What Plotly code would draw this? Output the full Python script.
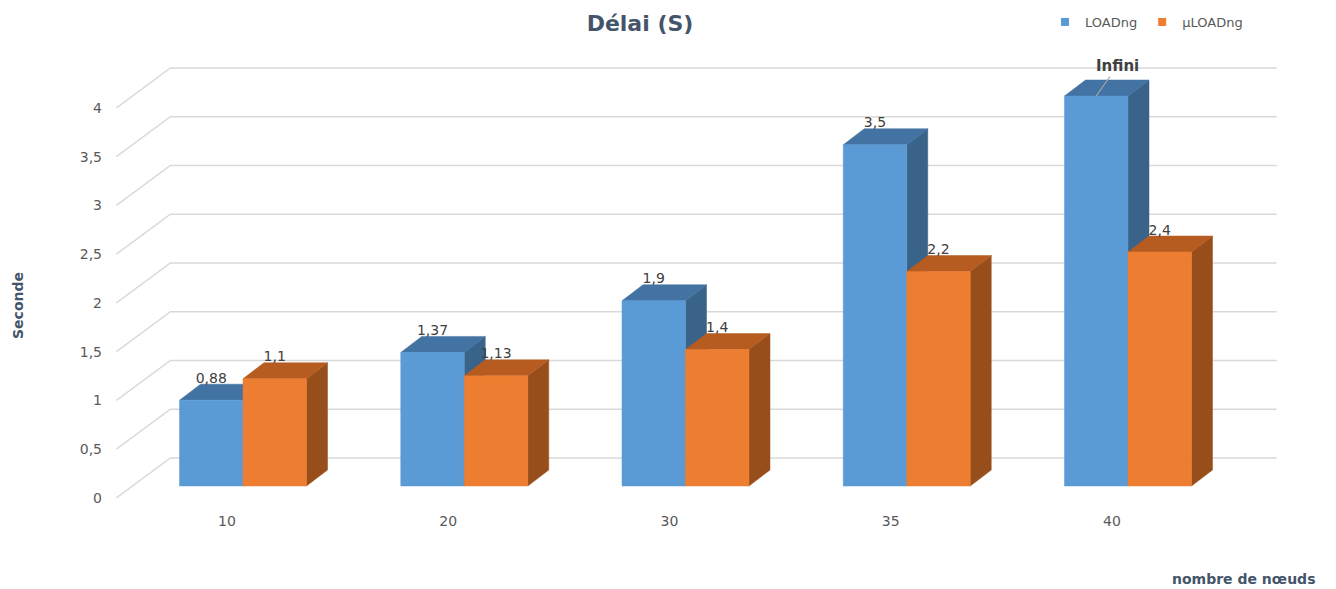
import plotly.graph_objects as go

# ---------------- data ----------------
categories = ["10", "20", "30", "35", "40"]
loadng = [0.88, 1.37, 1.9, 3.5, 4.0]
loadng_labels = ["0,88", "1,37", "1,9", "3,5", "Infini"]
uloadng = [1.1, 1.13, 1.4, 2.2, 2.4]
uloadng_labels = ["1,1", "1,13", "1,4", "2,2", "2,4"]
y_tickvals = [0, 0.5, 1, 1.5, 2, 2.5, 3, 3.5, 4]
y_ticktext = ["0", "0,5", "1", "1,5", "2", "2,5", "3", "3,5", "4"]
series_names = ["LOADng", "µLOADng"]

# ---------------- geometry (pixel-based layout) ----------------
W, H = 1336, 589
PLOT_L, PLOT_R, PLOT_T, PLOT_B = 116, 1280, 0, 501
CAT0_PX = 227.0          # front-plane center of first category
UX = 221.25              # px per category
ZERO_PX = 498.0          # front-plane y of value 0
UY = 97.5                # px per unit value

xr = [(PLOT_L - CAT0_PX) / UX, (PLOT_R - CAT0_PX) / UX]
yr = [(ZERO_PX - PLOT_B) / UY, (ZERO_PX - PLOT_T) / UY]

BX, BY = 16 / UX, 12 / UY      # bar front plane offset
DX, DY = 21 / UX, 16 / UY      # bar depth
WX, WY = 54 / UX, 40 / UY      # back wall offset
BW = 63.5 / UX                 # bar width
LBL_DY = 5 / UY

FRONT_L = -0.5
FRONT_R = len(categories) - 0.5

colors = {
    0: dict(front="#5B9BD5", top="#4373A3", side="#3A6389"),
    1: dict(front="#ED7D31", top="#B65C20", side="#984E1B"),
}

FONT = "DejaVu Sans, sans-serif"
fig = go.Figure()

# gridlines (back wall + left wall diagonals)
gx, gy = [], []
for t in y_tickvals:
    gx += [FRONT_L, FRONT_L + WX, FRONT_R + WX, None]
    gy += [t, t + WY, t + WY, None]
fig.add_trace(go.Scatter(x=gx, y=gy, mode="lines",
                         line=dict(color="#D9D9D9", width=1.5),
                         hoverinfo="skip", showlegend=False))

def faces(values, series_idx):
    fx, fy, tx, ty, sx, sy = [], [], [], [], [], []
    for i, v in enumerate(values):
        if series_idx == 0:
            x0, x1 = i + BX - BW, i + BX
        else:
            x0, x1 = i + BX, i + BX + BW
        yb, yt = BY, BY + v
        fx += [x0, x1, x1, x0, x0, None]
        fy += [yb, yb, yt, yt, yb, None]
        tx += [x0, x1, x1 + DX, x0 + DX, x0, None]
        ty += [yt, yt, yt + DY, yt + DY, yt, None]
        sx += [x1, x1 + DX, x1 + DX, x1, x1, None]
        sy += [yb, yb + DY, yt + DY, yt, yb, None]
    return (fx, fy), (tx, ty), (sx, sy)

for s, vals in enumerate([loadng, uloadng]):
    (fx, fy), (tx, ty), (sx, sy) = faces(vals, s)
    c = colors[s]
    for (xx, yy, col) in [(sx, sy, c["side"]), (tx, ty, c["top"]), (fx, fy, c["front"])]:
        fig.add_trace(go.Scatter(x=xx, y=yy, mode="lines", fill="toself",
                                 fillcolor=col, line=dict(color=col, width=0.5),
                                 hoverinfo="skip", showlegend=False))

# data labels
for s, (vals, labels) in enumerate([(loadng, loadng_labels), (uloadng, uloadng_labels)]):
    lx, ly, lt = [], [], []
    for i, (v, lab) in enumerate(zip(vals, labels)):
        cx = i + BX - BW / 2 if s == 0 else i + BX + BW / 2
        if lab == "Infini":
            fig.add_annotation(x=cx, y=BY + v, ax=21, ay=-30, text="<b>Infini</b>",
                               showarrow=True, arrowhead=0, arrowwidth=1.2,
                               arrowcolor="#A6A6A6",
                               font=dict(family=FONT, size=15, color="#404040"))
            continue
        lx.append(cx)
        ly.append(BY + v + DY + LBL_DY)
        lt.append(lab)
    fig.add_trace(go.Scatter(x=lx, y=ly, text=lt, mode="text",
                             textposition="middle center",
                             textfont=dict(family=FONT, size=14, color="#404040"),
                             hoverinfo="skip", showlegend=False, cliponaxis=False))

# legend entries
for s, name in enumerate(series_names):
    fig.add_trace(go.Scatter(x=[None], y=[None], mode="markers", name=name,
                             marker=dict(symbol="square", size=8, color=colors[s]["front"])))

def px2paper_x(px):
    return (px - PLOT_L) / (PLOT_R - PLOT_L)

def px2paper_y(py):
    return (PLOT_B - py) / (PLOT_B - PLOT_T)

fig.add_annotation(x=px2paper_x(18), y=px2paper_y(305), xref="paper", yref="paper",
                   xanchor="center", yanchor="middle",
                   text="<b>Seconde</b>", textangle=-90, showarrow=False,
                   font=dict(family=FONT, size=14, color="#44546A"))
fig.add_annotation(x=px2paper_x(1243), y=px2paper_y(579), xref="paper", yref="paper",
                   xanchor="center", yanchor="middle",
                   text="<b>nombre de nœuds</b>", showarrow=False,
                   font=dict(family=FONT, size=14, color="#44546A"))

fig.update_layout(
    width=W, height=H,
    margin=dict(l=PLOT_L, r=W - PLOT_R, t=PLOT_T, b=H - PLOT_B, pad=0),
    paper_bgcolor="white", plot_bgcolor="white",
    hovermode=False,
    title=dict(text="<b>Délai (S)</b>", x=640 / W, y=1 - 23 / H,
               xref="container", yref="container", xanchor="center", yanchor="middle",
               font=dict(family=FONT, size=22, color="#44546A")),
    legend=dict(orientation="h", xref="paper", yref="paper",
                x=px2paper_x(1045), y=px2paper_y(7), xanchor="left", yanchor="top",
                font=dict(family=FONT, size=13, color="#595959"),
                itemwidth=30, tracegroupgap=0, bgcolor="rgba(0,0,0,0)"),
    xaxis=dict(range=xr, tickmode="array", tickvals=list(range(len(categories))),
               ticktext=categories, showgrid=False, zeroline=False, showline=False,
               ticks="", ticklabelstandoff=10, automargin=False,
               tickfont=dict(family=FONT, size=14, color="#595959"), fixedrange=True),
    yaxis=dict(range=yr, tickmode="array", tickvals=y_tickvals, ticktext=y_ticktext,
               showgrid=False, zeroline=False, showline=False, ticks="",
               ticklabelstandoff=13, automargin=False,
               tickfont=dict(family=FONT, size=14, color="#595959"), fixedrange=True),
)

fig.write_html("out.html")
